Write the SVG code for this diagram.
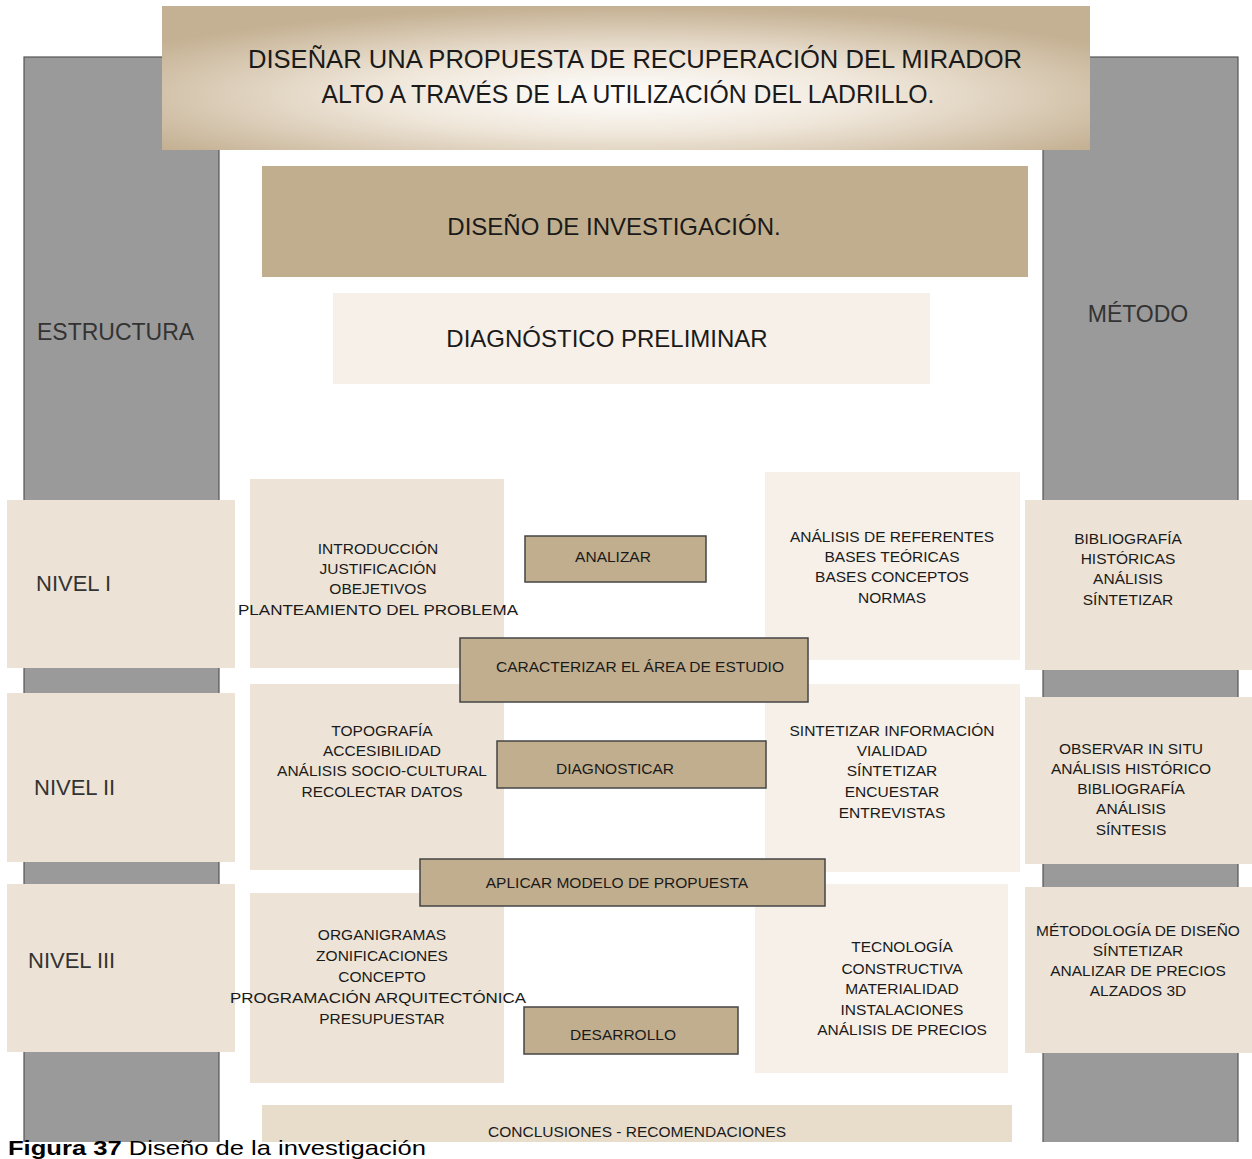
<svg xmlns="http://www.w3.org/2000/svg" width="1252" height="1159" viewBox="0 0 1252 1159">
<defs>
<radialGradient id="bannerGrad" cx="50%" cy="62%" r="62%" fx="50%" fy="62%">
<stop offset="0" stop-color="#ffffff"/>
<stop offset="0.45" stop-color="#efe6d9"/>
<stop offset="1" stop-color="#c4b092"/>
</radialGradient>
<style>
text{font-family:"Liberation Sans",Arial,sans-serif;fill:#1a1a1a;text-anchor:middle}
.big{font-size:24px}
.sm{font-size:15.5px}
.lvl{font-size:22px;text-anchor:start;fill:#333}
.gray{fill:#9a9a9a;stroke:#555;stroke-width:1.2}
.niv{fill:#ece3d6}
.mid{fill:#ede4d7}
.lite{fill:#f6f0e9}
.act{fill:#c1ae8e;stroke:#444;stroke-width:1.5}
.tan{fill:#c1ae8e}
</style>
</defs>
<rect width="1252" height="1159" fill="#ffffff"/>
<g id="col-estructura">
<rect class="gray" x="24" y="57" width="195" height="1110"/>
<text class="lvl" x="37" y="340" style="font-size:23px">ESTRUCTURA</text>
</g>
<g id="col-metodo">
<rect class="gray" x="1043" y="57" width="195" height="1110"/>
<text x="1138" y="322" style="font-size:23px;fill:#333">MÉTODO</text>
</g>
<g id="titulo">
<rect x="162" y="6" width="928" height="144" fill="url(#bannerGrad)"/>
<text x="635" y="68" style="font-size:26px" textLength="774" lengthAdjust="spacingAndGlyphs">DISEÑAR UNA PROPUESTA DE RECUPERACIÓN DEL MIRADOR</text>
<text x="628" y="103" style="font-size:26px" textLength="613" lengthAdjust="spacingAndGlyphs">ALTO A TRAVÉS DE LA UTILIZACIÓN DEL LADRILLO.</text>
</g>
<g id="diseno">
<rect class="tan" x="262" y="166" width="766" height="111"/>
<text class="big" x="614" y="235">DISEÑO DE INVESTIGACIÓN.</text>
</g>
<g id="diagnostico">
<rect class="lite" x="333" y="293" width="597" height="91"/>
<text class="big" x="607" y="347">DIAGNÓSTICO PRELIMINAR</text>
</g>
<g id="nivel1">
<rect class="niv" x="7" y="500" width="228" height="168"/>
<text class="lvl" x="36" y="591">NIVEL I</text>
</g>
<g id="n1-izq">
<rect class="mid" x="250" y="479" width="254" height="189"/>
<text class="sm" x="378" y="554">INTRODUCCIÓN</text>
<text class="sm" x="378" y="574">JUSTIFICACIÓN</text>
<text class="sm" x="378" y="594">OBEJETIVOS</text>
<text class="sm" x="378" y="615" textLength="280" lengthAdjust="spacingAndGlyphs">PLANTEAMIENTO DEL PROBLEMA</text>
</g>
<g id="n1-der">
<rect class="lite" x="765" y="472" width="255" height="188"/>
<text class="sm" x="892" y="542">ANÁLISIS DE REFERENTES</text>
<text class="sm" x="892" y="562">BASES TEÓRICAS</text>
<text class="sm" x="892" y="582">BASES CONCEPTOS</text>
<text class="sm" x="892" y="603">NORMAS</text>
</g>
<g id="n1-metodo">
<rect class="niv" x="1025" y="500" width="227" height="170"/>
<text class="sm" x="1128" y="544">BIBLIOGRAFÍA</text>
<text class="sm" x="1128" y="564">HISTÓRICAS</text>
<text class="sm" x="1128" y="584">ANÁLISIS</text>
<text class="sm" x="1128" y="605">SÍNTETIZAR</text>
</g>
<g id="nivel2">
<rect class="niv" x="7" y="693" width="228" height="169"/>
<text class="lvl" x="34" y="795">NIVEL II</text>
</g>
<g id="n2-izq">
<rect class="mid" x="250" y="684" width="254" height="186"/>
<text class="sm" x="382" y="736">TOPOGRAFÍA</text>
<text class="sm" x="382" y="756">ACCESIBILIDAD</text>
<text class="sm" x="382" y="776">ANÁLISIS SOCIO-CULTURAL</text>
<text class="sm" x="382" y="797">RECOLECTAR DATOS</text>
</g>
<g id="n2-der">
<rect class="lite" x="765" y="684" width="255" height="188"/>
<text class="sm" x="892" y="736">SINTETIZAR INFORMACIÓN</text>
<text class="sm" x="892" y="756">VIALIDAD</text>
<text class="sm" x="892" y="776">SÍNTETIZAR</text>
<text class="sm" x="892" y="797">ENCUESTAR</text>
<text class="sm" x="892" y="818">ENTREVISTAS</text>
</g>
<g id="n2-metodo">
<rect class="niv" x="1025" y="697" width="227" height="167"/>
<text class="sm" x="1131" y="754">OBSERVAR IN SITU</text>
<text class="sm" x="1131" y="774">ANÁLISIS  HISTÓRICO</text>
<text class="sm" x="1131" y="794">BIBLIOGRAFÍA</text>
<text class="sm" x="1131" y="814">ANÁLISIS</text>
<text class="sm" x="1131" y="835">SÍNTESIS</text>
</g>
<g id="nivel3">
<rect class="niv" x="7" y="884" width="228" height="168"/>
<text class="lvl" x="28" y="968">NIVEL III</text>
</g>
<g id="n3-izq">
<rect class="mid" x="250" y="893" width="254" height="190"/>
<text class="sm" x="382" y="940">ORGANIGRAMAS</text>
<text class="sm" x="382" y="961">ZONIFICACIONES</text>
<text class="sm" x="382" y="982">CONCEPTO</text>
<text class="sm" x="378" y="1003" textLength="296" lengthAdjust="spacingAndGlyphs">PROGRAMACIÓN ARQUITECTÓNICA</text>
<text class="sm" x="382" y="1024">PRESUPUESTAR</text>
</g>
<g id="n3-der">
<rect class="lite" x="755" y="884" width="253" height="189"/>
<text class="sm" x="902" y="952">TECNOLOGÍA</text>
<text class="sm" x="902" y="974">CONSTRUCTIVA</text>
<text class="sm" x="902" y="994">MATERIALIDAD</text>
<text class="sm" x="902" y="1015">INSTALACIONES</text>
<text class="sm" x="902" y="1035">ANÁLISIS DE PRECIOS</text>
</g>
<g id="n3-metodo">
<rect class="niv" x="1025" y="887" width="227" height="166"/>
<text class="sm" x="1138" y="936">MÉTODOLOGÍA DE DISEÑO</text>
<text class="sm" x="1138" y="956">SÍNTETIZAR</text>
<text class="sm" x="1138" y="976">ANALIZAR DE PRECIOS</text>
<text class="sm" x="1138" y="996">ALZADOS 3D</text>
</g>
<g id="analizar">
<rect class="act" x="525" y="536" width="181" height="46"/>
<text class="sm" x="613" y="562">ANALIZAR</text>
</g>
<g id="caracterizar">
<rect class="act" x="460" y="638" width="348" height="64"/>
<text class="sm" x="640" y="672">CARACTERIZAR EL ÁREA DE ESTUDIO</text>
</g>
<g id="diagnosticar">
<rect class="act" x="497" y="741" width="269" height="47"/>
<text class="sm" x="615" y="774">DIAGNOSTICAR</text>
</g>
<g id="aplicar">
<rect class="act" x="420" y="859" width="405" height="47"/>
<text class="sm" x="617" y="888">APLICAR MODELO DE PROPUESTA</text>
</g>
<g id="desarrollo">
<rect class="act" x="524" y="1007" width="214" height="47"/>
<text class="sm" x="623" y="1040">DESARROLLO</text>
</g>
<g id="conclusiones">
<rect x="262" y="1105" width="750" height="37" fill="#e8dccb"/>
<text class="sm" x="637" y="1137">CONCLUSIONES - RECOMENDACIONES</text>
</g>
<g id="connectors"/>
<g id="caption">
<rect x="0" y="1142" width="1252" height="17" fill="#ffffff"/>
<text x="8" y="1155" style="text-anchor:start;font-size:21px;fill:#000" textLength="418" lengthAdjust="spacingAndGlyphs"><tspan font-weight="bold">Figura 37</tspan> Diseño de la investigación</text>
</g>
</svg>
